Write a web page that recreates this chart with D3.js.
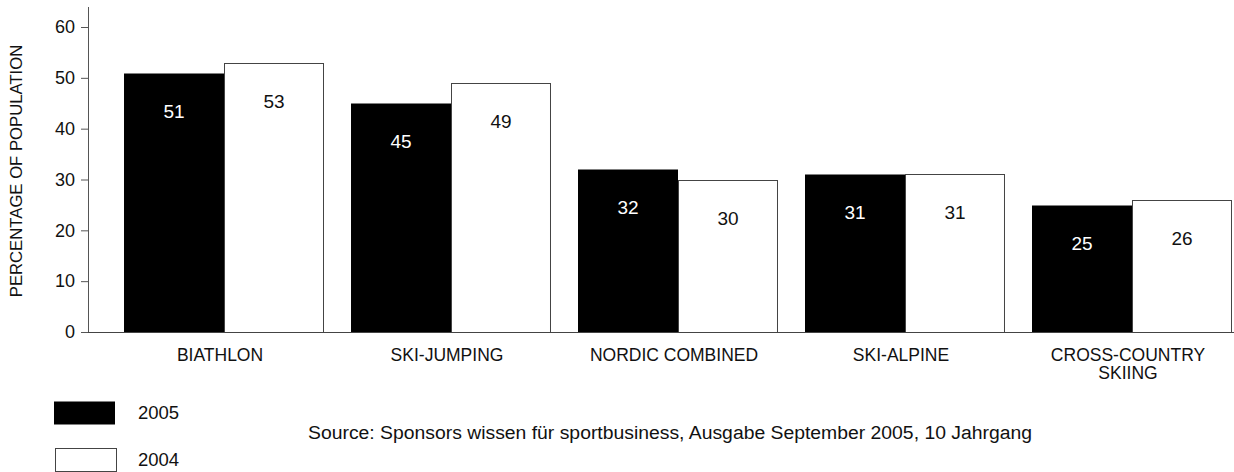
<!DOCTYPE html>
<html>
<head>
<meta charset="utf-8">
<style>
    body { margin: 0; background: #fff; }
    svg { font-family: "Liberation Sans", Arial, sans-serif; }
    .axis line, .axis path { stroke: #555; }
    .axis text { font-size: 18px; fill: #111; }
</style>
</head>
<body>
<script src="https://d3js.org/d3.v7.min.js"></script>
<script>

    // data
    var categories = ["BIATHLON", "SKI-JUMPING", "NORDIC COMBINED", "SKI-ALPINE", "CROSS-COUNTRY SKIING"];
    var years = ["2005", "2004"];
    var values2005 = [51, 45, 32, 31, 25];
    var values2004 = [53, 49, 30, 31, 26];
    var yTicks = [0, 10, 20, 30, 40, 50, 60];
    var source = "Source: Sponsors wissen für sportbusiness, Ausgabe September 2005, 10 Jahrgang";

    var width = 1234, height = 472;
    var fills = { "2005": "#000", "2004": "#fff" };

    var svg = d3.select("body").append("svg")
        .attr("width", width)
        .attr("height", height);

    var rows = categories.map(function(c, i) {
        return { cat: c, vals: [
            { year: "2005", v: values2005[i] },
            { year: "2004", v: values2004[i] }
        ] };
    });

    var x = d3.scaleBand()
        .domain(categories)
        .range([97, 1259])
        .padding(0.119);

    var xs = d3.scaleBand()
        .domain(years)
        .range([0, x.bandwidth()]);

    var y = d3.scaleLinear()
        .domain([0, 60])
        .range([332, 27]);

    var axisX = 88;

    // y axis
    var yAxis = svg.append("g")
        .attr("class", "axis")
        .attr("transform", "translate(" + axisX + ",0)")
        .call(d3.axisLeft(y).tickValues(yTicks).tickSize(7).tickSizeOuter(0).tickPadding(6));
    yAxis.select(".domain").remove();

    svg.append("line")
        .attr("x1", axisX + 0.5).attr("x2", axisX + 0.5)
        .attr("y1", 7).attr("y2", y(0))
        .attr("stroke", "#555");

    svg.append("text")
        .attr("transform", "translate(22," + 171 + ") rotate(-90)")
        .attr("text-anchor", "middle")
        .style("font-size", "16.7px")
        .attr("fill", "#111")
        .text("PERCENTAGE OF POPULATION");

    // bars
    var group = svg.selectAll("g.cat")
        .data(rows)
        .enter().append("g")
        .attr("class", "cat")
        .attr("transform", function(d) { return "translate(" + x(d.cat) + ",0)"; });

    group.selectAll("rect")
        .data(function(d) { return d.vals; })
        .enter().append("rect")
        .attr("x", function(d) { return xs(d.year) + (d.year == "2004" ? 0.5 : 0); })
        .attr("y", function(d) { return Math.round(y(d.v)) + 0.5; })
        .attr("width", function(d) { return xs.bandwidth() - (d.year == "2004" ? 1 : 0); })
        .attr("height", function(d) { return y(0) - Math.round(y(d.v)); })
        .attr("fill", function(d) { return fills[d.year]; })
        .attr("stroke", function(d) { return d.year == "2004" ? "#444" : "none"; });

    group.selectAll("text.val")
        .data(function(d) { return d.vals; })
        .enter().append("text")
        .attr("class", "val")
        .attr("x", function(d) { return xs(d.year) + xs.bandwidth() / 2; })
        .attr("y", function(d) { return y(d.v) + 45; })
        .attr("text-anchor", "middle")
        .style("font-size", "19px")
        .attr("fill", function(d) { return d.year == "2005" ? "#fff" : "#111"; })
        .text(function(d) { return d.v; });

    // baseline
    svg.append("line")
        .attr("x1", axisX).attr("x2", width)
        .attr("y1", y(0) + 0.5).attr("y2", y(0) + 0.5)
        .attr("stroke", "#444");

    // category labels, long ones wrap on two lines
    var catLabel = svg.selectAll("text.cat")
        .data(categories)
        .enter().append("text")
        .attr("class", "cat")
        .attr("text-anchor", "middle")
        .attr("transform", function(d) { return "translate(" + (x(d) + x.bandwidth() / 2 - 4) + ",361)"; })
        .style("font-size", "17.5px")
        .attr("fill", "#111");

    catLabel.each(function(d) {
        var lines = d == "CROSS-COUNTRY SKIING" ? ["CROSS-COUNTRY", "SKIING"] : [d];
        var t = d3.select(this);
        lines.forEach(function(l, i) {
            t.append("tspan").attr("x", 0).attr("dy", i ? 18 : 0).text(l);
        });
    });

    // legend
    var legend = svg.selectAll("g.legend")
        .data(years)
        .enter().append("g")
        .attr("class", "legend")
        .attr("transform", function(d, i) { return "translate(54," + (401 + i * 47) + ")"; });

    legend.append("rect")
        .attr("x", function(d) { return d == "2004" ? 1.5 : 0; })
        .attr("y", 0.5)
        .attr("width", 61)
        .attr("height", 23)
        .attr("fill", function(d) { return fills[d]; })
        .attr("stroke", function(d) { return d == "2004" ? "#444" : "none"; });

    legend.append("text")
        .attr("x", 84)
        .attr("y", 18)
        .style("font-size", "18.5px")
        .attr("fill", "#111")
        .text(function(d) { return d; });

    svg.append("text")
        .attr("x", 308)
        .attr("y", 439)
        .attr("textLength", 724)
        .attr("lengthAdjust", "spacingAndGlyphs")
        .style("font-size", "18px")
        .attr("fill", "#111")
        .text(source);

</script>
</body>
</html>
